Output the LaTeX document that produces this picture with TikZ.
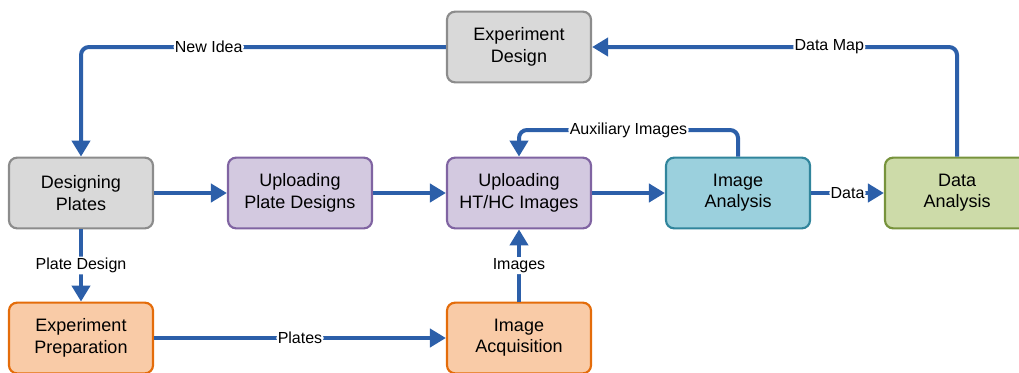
\documentclass[tikz,border=0pt]{standalone}
\usepackage{fontspec}
\setmainfont{Liberation Sans}
\usetikzlibrary{arrows.meta}

\definecolor{flow}{HTML}{2C5FA9}
\definecolor{grayfill}{HTML}{D9D9D9}
\definecolor{grayline}{HTML}{8C8C8C}
\definecolor{purfill}{HTML}{D3C9E0}
\definecolor{purline}{HTML}{8064A2}
\definecolor{tealfill}{HTML}{9BD0DD}
\definecolor{tealline}{HTML}{31859C}
\definecolor{greenfill}{HTML}{CDDBA9}
\definecolor{greenline}{HTML}{77933C}
\definecolor{orangefill}{HTML}{F9CBA7}
\definecolor{orangeline}{HTML}{E46C0A}

\begin{document}
\begin{tikzpicture}[x=0.75pt,y=-0.75pt,
  box/.style={draw, line width=1.6pt, rounded corners=6pt,
    minimum width=108pt, minimum height=53pt, align=center,
    inner sep=0pt, font=\fontsize{13.5}{16}\selectfont},
  graybox/.style={box, fill=grayfill, draw=grayline},
  purbox/.style={box, fill=purfill, draw=purline},
  tealbox/.style={box, fill=tealfill, draw=tealline},
  greenbox/.style={box, fill=greenfill, draw=greenline},
  orangebox/.style={box, fill=orangefill, draw=orangeline},
  flowline/.style={draw=flow, line width=3pt, rounded corners=6pt,
    -{Triangle[length=12pt,width=13.5pt]}},
  plainline/.style={draw=flow, line width=3pt, rounded corners=6pt},
  lbl/.style={fill=white, inner sep=1pt, text=black,
    font=\fontsize{12}{14}\selectfont}]

\useasboundingbox (0,0) rectangle (1019,372);

% process boxes
\node[graybox]   (ed)  at (519,47)  {Experiment\\Design};
\node[graybox]   (dp)  at (81,193)  {Designing\\Plates};
\node[purbox]    (upd) at (300,193) {Uploading\\Plate Designs};
\node[purbox]    (uhi) at (519,193) {Uploading\\HT/HC Images};
\node[tealbox]   (ia)  at (738,193) {Image\\Analysis};
\node[greenbox]  (da)  at (957,193) {Data\\Analysis};
\node[orangebox] (ep)  at (81,338)  {Experiment\\Preparation};
\node[orangebox] (iq)  at (519,338) {Image\\Acquisition};

% loop-back coordinates for the auxiliary images path
\coordinate (auxr) at (738,130);
\coordinate (auxl) at (519,130);

% connectors
\draw[flowline] (ed.west) -| node[lbl, pos=0.325] {New Idea} (dp.north);
\draw[flowline] (da.north) |- node[lbl, pos=0.675] {Data Map} (ed.east);
\draw[flowline] (dp.east) -- (upd.west);
\draw[flowline] (upd.east) -- (uhi.west);
\draw[flowline] (uhi.east) -- (ia.west);
\draw[flowline] (ia.east) -- node[lbl] {Data} (da.west);
\draw[flowline] (ia.north) -- (auxr) -- node[lbl] {Auxiliary Images} (auxl) -- (uhi.north);
\draw[flowline] (dp.south) -- node[lbl] {Plate Design} (ep.north);
\draw[flowline] (ep.east) -- node[lbl] {Plates} (iq.west);
\draw[flowline] (iq.north) -- node[lbl] {Images} (uhi.south);
\end{tikzpicture}
\end{document}
